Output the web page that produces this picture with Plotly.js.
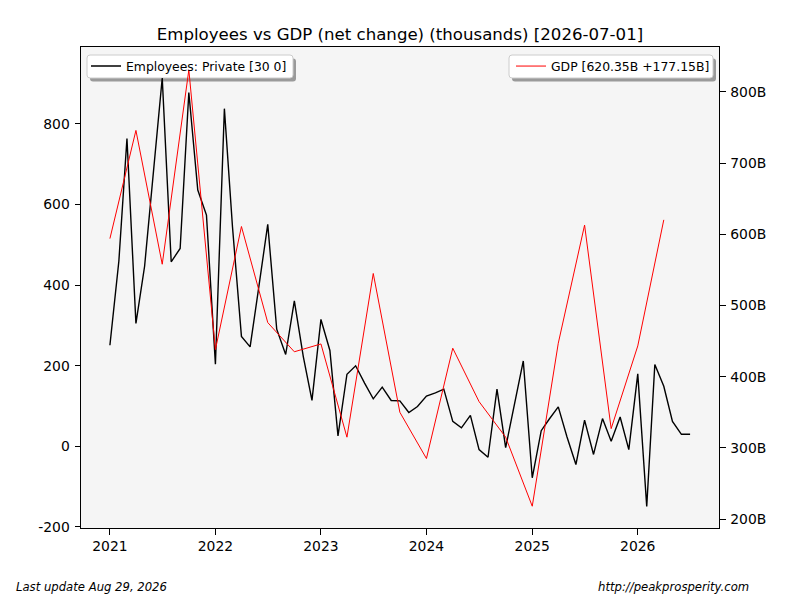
<!DOCTYPE html>
<html>
<head>
<meta charset="utf-8">
<script src="https://cdn.plot.ly/plotly-3.0.1.min.js"></script>
<style>html,body{margin:0;padding:0;background:#fff;}#chart{width:800px;height:600px;}</style>
</head>
<body>
<div id="chart"></div>
<script>
// Employees: Private, monthly net change (thousands), 2021-01 .. 2026-07
var empMonths = [
  "2021-01-01","2021-02-01","2021-03-01","2021-04-01","2021-05-01","2021-06-01","2021-07-01","2021-08-01","2021-09-01","2021-10-01","2021-11-01","2021-12-01",
  "2022-01-01","2022-02-01","2022-03-01","2022-04-01","2022-05-01","2022-06-01","2022-07-01","2022-08-01","2022-09-01","2022-10-01","2022-11-01","2022-12-01",
  "2023-01-01","2023-02-01","2023-03-01","2023-04-01","2023-05-01","2023-06-01","2023-07-01","2023-08-01","2023-09-01","2023-10-01","2023-11-01","2023-12-01",
  "2024-01-01","2024-02-01","2024-03-01","2024-04-01","2024-05-01","2024-06-01","2024-07-01","2024-08-01","2024-09-01","2024-10-01","2024-11-01","2024-12-01",
  "2025-01-01","2025-02-01","2025-03-01","2025-04-01","2025-05-01","2025-06-01","2025-07-01","2025-08-01","2025-09-01","2025-10-01","2025-11-01","2025-12-01",
  "2026-01-01","2026-02-01","2026-03-01","2026-04-01","2026-05-01","2026-06-01","2026-07-01"
];
var empValues = [
  251, 460, 764, 305, 447, 680, 914, 458, 491, 878, 636, 574,
  204, 838, 545, 273, 247, 400, 551, 291, 228, 361, 223, 114,
  315, 238, 26, 179, 200, 157, 118, 147, 114, 113, 84, 99,
  125, 133, 142, 62, 46, 77, -8, -27, 142, -3, 106, 212,
  -78, 39, 68, 98, 24, -45, 65, -20, 69, 13, 73, -8,
  180, -149, 203, 149, 62, 30, 30
];
// GDP, quarterly net change (billions), 2021-Q1 .. 2026-Q2
var gdpQuarters = [
  "2021-01-01","2021-04-01","2021-07-01","2021-10-01",
  "2022-01-01","2022-04-01","2022-07-01","2022-10-01",
  "2023-01-01","2023-04-01","2023-07-01","2023-10-01",
  "2024-01-01","2024-04-01","2024-07-01","2024-10-01",
  "2025-01-01","2025-04-01","2025-07-01","2025-10-01",
  "2026-01-01","2026-04-01"
];
var gdpValues = [
  594, 746, 558, 831,
  438, 611, 476, 435,
  446, 315, 545, 350,
  285, 440, 365, 315,
  218, 447, 613, 327,
  443.2, 620.35
];
var yearTicks = ["2021-01-01","2022-01-01","2023-01-01","2024-01-01","2025-01-01","2026-01-01"];
var yearLabels = ["2021","2022","2023","2024","2025","2026"];
var leftTicks = [-200, 0, 200, 400, 600, 800];
var leftLabels = ["-200", "0", "200", "400", "600", "800"];
var rightTicks = [200, 300, 400, 500, 600, 700, 800];
var rightLabels = ["200B", "300B", "400B", "500B", "600B", "700B", "800B"];

var FONT = "DejaVu Sans, Liberation Sans, sans-serif";

var traces = [
  {x: empMonths, y: empValues, type: "scatter", mode: "lines",
   name: "Employees: Private [30 0]", line: {color: "#000000", width: 1.4},
   yaxis: "y", legend: "legend"},
  {x: gdpQuarters, y: gdpValues, type: "scatter", mode: "lines",
   name: "GDP [620.35B +177.15B]", line: {color: "#ff0000", width: 1},
   yaxis: "y2", legend: "legend2"}
];

function px2x(p){ return (p - 81) / 638; }
function px2y(p){ return (528 - p) / 481; }

// rounded rectangle path in paper coordinates, given pixel box
function roundRect(x0, y0, x1, y1, r){
  var X = px2x, Y = px2y;
  return "M" + X(x0 + r) + "," + Y(y0) +
         " L" + X(x1 - r) + "," + Y(y0) +
         " Q" + X(x1) + "," + Y(y0) + " " + X(x1) + "," + Y(y0 + r) +
         " L" + X(x1) + "," + Y(y1 - r) +
         " Q" + X(x1) + "," + Y(y1) + " " + X(x1 - r) + "," + Y(y1) +
         " L" + X(x0 + r) + "," + Y(y1) +
         " Q" + X(x0) + "," + Y(y1) + " " + X(x0) + "," + Y(y1 - r) +
         " L" + X(x0) + "," + Y(y0 + r) +
         " Q" + X(x0) + "," + Y(y0) + " " + X(x0 + r) + "," + Y(y0) + " Z";
}

function legendFrame(x0, y0, x1, y1, layer){
  return [
    {type: "path", xref: "paper", yref: "paper", layer: layer,
     path: roundRect(x0 + 3, y0 + 3.5, x1 + 3, y1 + 3.5, 3),
     fillcolor: "#9a9a9a", line: {width: 0}},
    {type: "path", xref: "paper", yref: "paper", layer: layer,
     path: roundRect(x0, y0, x1, y1, 3),
     fillcolor: "#ffffff", line: {color: "#cccccc", width: 1}}
  ];
}

var shapes = legendFrame(87, 55, 293, 78, "below").concat(legendFrame(509, 55, 713, 78, "above"));

var layout = {
  width: 800, height: 600,
  margin: {l: 81, r: 81, t: 47, b: 72, pad: 0},
  paper_bgcolor: "#ffffff",
  plot_bgcolor: "#f5f5f5",
  font: {family: FONT, size: 13.9, color: "#000"},
  title: {text: "Employees vs GDP (net change) (thousands) [2026-07-01]",
          font: {family: FONT, size: 16.6, color: "#000"},
          x: 0.5, xanchor: "center", y: 1 - 34/600, yanchor: "middle", yref: "container"},
  showlegend: true,
  xaxis: {type: "date", range: ["2020-09-23", "2026-10-09"],
          tickmode: "array", tickvals: yearTicks, ticktext: yearLabels,
          showgrid: false, zeroline: false, showline: true, mirror: true,
          linecolor: "#000", linewidth: 1, ticks: "outside", ticklen: 5.5, tickcolor: "#000",
          tickfont: {family: FONT, size: 13.9}},
  yaxis: {range: [-202.5, 991], tickmode: "array", tickvals: leftTicks, ticktext: leftLabels,
          showgrid: false, zeroline: false, showline: true,
          linecolor: "#000", linewidth: 1, ticks: "outside", ticklen: 5.5, tickcolor: "#000",
          ticklabelstandoff: 2, tickfont: {family: FONT, size: 13.9}},
  yaxis2: {overlaying: "y", side: "right", range: [187.4, 863.2],
           tickmode: "array", tickvals: rightTicks, ticktext: rightLabels,
           showgrid: false, zeroline: false, showline: true,
           linecolor: "#000", linewidth: 1, ticks: "outside", ticklen: 5.5, tickcolor: "#000",
           ticklabelstandoff: 2, tickfont: {family: FONT, size: 13.9}},
  legend: {x: px2x(86), y: px2y(51.5), xanchor: "left", yanchor: "top",
           bgcolor: "rgba(0,0,0,0)", borderwidth: 0,
           font: {family: FONT, size: 12.4}, itemwidth: 30, tracegroupgap: 0},
  legend2: {x: px2x(715), y: px2y(51.5), xanchor: "right", yanchor: "top",
            bgcolor: "rgba(0,0,0,0)", borderwidth: 0,
            font: {family: FONT, size: 12.4}, itemwidth: 30, tracegroupgap: 0},
  shapes: shapes,
  annotations: [
    {text: "Last update Aug 29, 2026", xref: "paper", yref: "paper",
     x: px2x(13.5), y: px2y(587), xanchor: "left", yanchor: "middle", showarrow: false,
     font: {family: FONT, size: 11.65, style: "italic", color: "#000"}},
    {text: "http://peakprosperity.com", xref: "paper", yref: "paper",
     x: px2x(751), y: px2y(587), xanchor: "right", yanchor: "middle", showarrow: false,
     font: {family: FONT, size: 11.65, style: "italic", color: "#000"}}
  ]
};

Plotly.newPlot("chart", traces, layout, {displayModeBar: false, staticPlot: true});
</script>
</body>
</html>
